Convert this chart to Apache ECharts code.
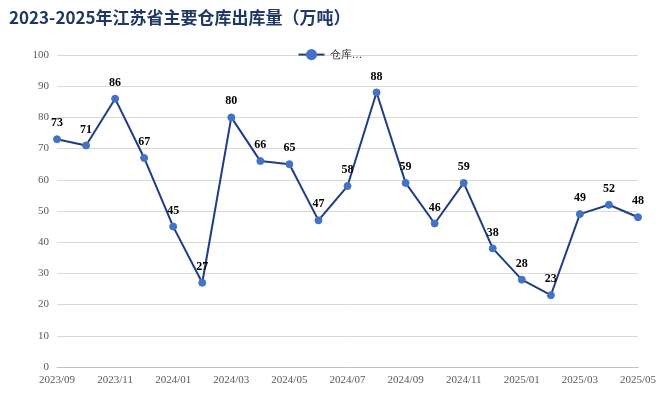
<!DOCTYPE html>
<html>
<head>
<meta charset="utf-8">
<script src="https://cdn.jsdelivr.net/npm/echarts@6/dist/echarts.min.js"></script>
<style>html,body{margin:0;padding:0;background:#fff}#main{width:660px;height:407px}</style>
</head>
<body>
<div id="main"></div>
<script>
var months = ['2023/09','2023/10','2023/11','2023/12','2024/01','2024/02','2024/03','2024/04','2024/05','2024/06','2024/07',
  '2024/08','2024/09','2024/10','2024/11','2024/12','2025/01','2025/02','2025/03','2025/04','2025/05'];
var outbound = [73,71,86,67,45,27,80,66,65,47,58,88,59,46,59,38,28,23,49,52,48];

var chart = echarts.init(document.getElementById('main'));
chart.setOption({
  animation: false,
  title: {
    text: '2023-2025年江苏省主要仓库出库量（万吨）',
    left: 4, top: 4,
    textStyle: { color: '#1f3864', fontSize: 17, fontWeight: 'bold', fontFamily: 'Noto Sans CJK SC' }
  },
  legend: {
    top: 44, left: 'center',
    data: ['仓库…'],
    textStyle: { fontSize: 11, color: '#333' },
    itemWidth: 26
  },
  grid: { left: 57, right: 22, top: 55, bottom: 40 },
  xAxis: {
    type: 'category',
    data: months,
    boundaryGap: false,
    axisLine: { lineStyle: { color: '#bfbfbf' } },
    axisTick: { show: false },
    axisLabel: { interval: 1, color: '#595959', fontSize: 11, fontFamily: 'Liberation Serif' }
  },
  yAxis: {
    type: 'value', min: 0, max: 100, interval: 10,
    axisLine: { show: false },
    axisTick: { show: false },
    splitLine: { lineStyle: { color: '#d9d9d9' } },
    axisLabel: { color: '#595959', fontSize: 11, fontFamily: 'Liberation Serif' }
  },
  series: [{
    name: '仓库…',
    type: 'line',
    data: outbound,
    symbol: 'circle',
    symbolSize: 7,
    lineStyle: { color: '#1f3c88', width: 2 },
    itemStyle: { color: '#4472c4', borderColor: '#4472c4' },
    label: {
      show: true, position: 'top', distance: 6,
      color: '#000', fontWeight: 'bold', fontSize: 12, fontFamily: 'Liberation Serif'
    }
  }]
});
</script>
</body>
</html>
